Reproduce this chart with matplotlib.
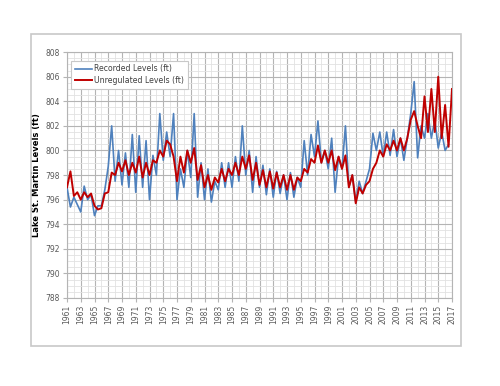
import numpy as np
import matplotlib
matplotlib.use("Agg")
import matplotlib.pyplot as plt
from matplotlib.patches import Rectangle

# semi-annual readings (value at Y.0, value at Y.5), 1961..2016
recorded = [
    797.0, 795.4, 796.2, 795.6, 795.0, 797.1, 796.0, 796.4, 794.7, 795.5,
    795.5, 796.8, 798.7, 802.0, 797.5, 800.0, 797.2, 799.8, 797.0, 801.3,
    796.6, 801.2, 797.0, 800.8, 796.0, 799.6, 798.0, 803.0, 799.2, 801.5,
    799.5, 803.0, 796.0, 798.5, 797.0, 800.0, 797.8, 803.0, 796.2, 799.0,
    796.0, 798.5, 795.8, 797.5, 796.8, 799.0, 797.0, 799.0, 797.0, 799.5,
    797.5, 802.0, 798.0, 800.0, 796.6, 799.5, 797.0, 798.8, 796.4, 798.5,
    796.2, 798.3, 796.5, 798.0, 796.0, 798.2, 796.2, 797.8, 797.0, 800.8,
    798.0, 801.3, 799.5, 802.4, 799.0, 800.0, 798.5, 801.0, 796.6, 799.5,
    798.5, 802.0, 797.0, 798.0, 795.8, 797.5, 796.5, 797.5, 798.5, 801.4,
    800.0, 801.5, 799.5, 801.5, 799.6, 801.7, 799.5, 801.0, 799.2, 801.0,
    803.0, 805.6, 799.4, 802.0, 801.0, 803.0, 801.0, 802.5, 800.2, 801.5,
    800.0, 800.5,
]

unregulated = [
    797.0, 798.3, 796.3, 796.6, 796.0, 796.6, 796.2, 796.5, 795.5, 795.2,
    795.3, 796.5, 796.6, 798.2, 798.0, 799.0, 798.3, 799.2, 798.0, 799.0,
    798.2, 799.5, 797.8, 799.0, 798.0, 799.2, 799.0, 800.0, 799.5, 800.8,
    800.5, 799.5, 797.5, 799.5, 798.2, 800.0, 799.0, 800.2, 797.6, 798.8,
    797.0, 798.0, 796.8, 797.8, 797.4, 798.5, 797.5, 798.5, 798.0, 799.0,
    798.0, 799.5, 798.5, 799.6, 797.6, 799.0, 797.2, 798.4, 797.0, 798.3,
    796.9, 798.2, 797.0, 798.0, 796.8, 798.0, 796.8, 797.8, 797.5, 798.5,
    798.2, 799.3, 799.0, 800.4, 799.0, 800.0, 799.0, 800.0, 798.4, 799.5,
    798.5, 799.6, 797.0, 798.0, 795.7, 797.0, 796.5, 797.2, 797.5, 798.5,
    799.0, 800.0, 799.5, 800.5, 800.0, 800.8, 800.0, 801.0, 800.0, 801.0,
    802.5, 803.2, 802.0, 801.0, 804.4, 801.5, 805.0, 801.5, 806.0, 801.0,
    803.7, 800.3, 805.0,
]

year_labels = list(range(1961, 2018, 2))

t_rec = 1961 + 0.5 * np.arange(len(recorded))
t_unr = 1961 + 0.5 * np.arange(len(unregulated))

fig = plt.figure(figsize=(5.0, 3.86), dpi=100)
fig.patches.append(Rectangle((0.062, 0.104), 0.86, 0.808, transform=fig.transFigure,
                             fill=False, edgecolor="#c8c8c8", linewidth=1.2))

ax = fig.add_axes([0.134, 0.228, 0.770, 0.637])
ax.plot(t_rec, recorded, color="#4f81bd", linewidth=1.2, label="Recorded Levels (ft)", zorder=3)
ax.plot(t_unr, unregulated, color="#c00000", linewidth=1.4, label="Unregulated Levels (ft)", zorder=4)

ax.set_xlim(1961, 2017)
ax.set_ylim(788, 808)
ax.set_xticks(year_labels)
ax.set_xticklabels([str(y) for y in year_labels], rotation=90)
ax.set_xticks(np.arange(1961, 2018, 1), minor=True)
ax.set_yticks(np.arange(788, 809, 2))
ax.set_yticks(np.arange(788, 808.1, 0.5), minor=True)

ax.grid(which="major", color="#b4b4b4", linewidth=0.8)
ax.grid(which="minor", color="#e2e2e2", linewidth=0.6)
ax.set_axisbelow(True)

for s in ax.spines.values():
    s.set_color("#b4b4b4")
    s.set_linewidth(0.8)

ax.tick_params(which="major", labelsize=5.5, labelcolor="#595959", color="#b4b4b4", length=3, pad=2)
ax.tick_params(which="minor", length=0)
ax.set_ylabel("Lake St. Martin Levels (ft)", fontsize=6, fontweight="bold", labelpad=3)

leg = ax.legend(loc="upper left", bbox_to_anchor=(0.005, 0.975), fontsize=5.6,
                frameon=True, fancybox=False, handlelength=2.2, handletextpad=0.2,
                borderpad=0.5, labelspacing=0.35, borderaxespad=0.3)
leg.get_frame().set_edgecolor("#c8c8c8")
leg.get_frame().set_linewidth(0.8)
leg.get_frame().set_alpha(1.0)
for txt in leg.get_texts():
    txt.set_color("#404040")

fig.savefig("out.png", dpi=100)
